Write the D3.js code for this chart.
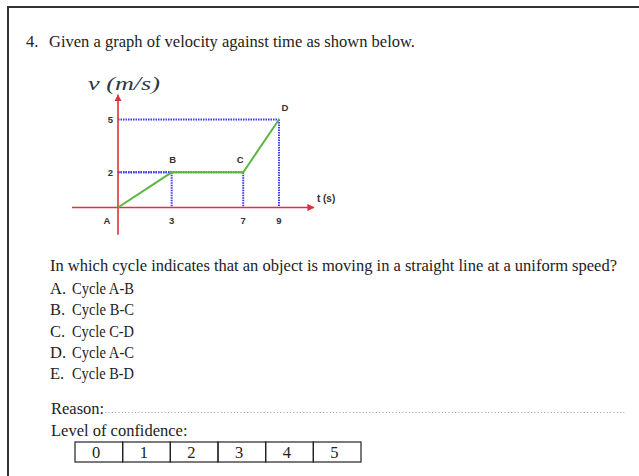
<!DOCTYPE html>
<html>
<head>
<meta charset="utf-8">
<script src="https://cdn.jsdelivr.net/npm/d3@7"></script>
<style>
  body { margin: 0; background: #fff; }
  text { font-family: "Liberation Serif", "Times New Roman", serif; fill: #222; }
  .g text { font-family: "Liberation Sans", Arial, sans-serif; font-weight: bold; fill: #333; }
</style>
</head>
<body>
<div id="chart"></div>
<script>
// data
var points = [
  {label: "A", t: 0, v: 0},
  {label: "B", t: 3, v: 2},
  {label: "C", t: 7, v: 2},
  {label: "D", t: 9, v: 5}
];
var tTicks = [3, 7, 9];
var vTicks = [2, 5];
var question = "In which cycle indicates that an object is moving in a straight line at a uniform speed?";
var optionLetters = ["A.", "B.", "C.", "D.", "E."];
var optionTexts = ["Cycle A-B", "Cycle B-C", "Cycle C-D", "Cycle A-C", "Cycle B-D"];
var confidence = [0, 1, 2, 3, 4, 5];

var width = 639, height = 476;
var fs = "16.5px";

var svg = d3.select("#chart")
  .append("svg")
    .attr("width", width)
    .attr("height", height);

// page frame
svg.append("path")
  .attr("d", "M8," + height + " V7 H" + width)
  .attr("fill", "none")
  .attr("stroke", "#333")
  .attr("stroke-width", 2);

svg.append("text")
  .attr("x", 26).attr("y", 47)
  .attr("font-size", fs)
  .text("4.");
svg.append("text")
  .attr("x", 49).attr("y", 47)
  .attr("font-size", fs)
  .attr("textLength", 366)
  .attr("lengthAdjust", "spacingAndGlyphs")
  .text("Given a graph of velocity against time as shown below.");

// graph scales
var x = d3.scaleLinear().domain([0, 9]).range([118, 279]);
var y = d3.scaleLinear().domain([0, 5]).range([207.5, 119.5]);

var g = svg.append("g").attr("class", "g");

var defs = svg.append("defs");
defs.append("marker")
  .attr("id", "arrow")
  .attr("viewBox", "0 0 10 10")
  .attr("refX", 9).attr("refY", 5)
  .attr("markerWidth", 4.5).attr("markerHeight", 4.5)
  .attr("orient", "auto")
  .append("path")
  .attr("d", "M0,0 L10,5 L0,10 z")
  .attr("fill", "#e0303a");

// dotted guides
var guide = "#3b3bf5";
points.slice(1).forEach(function(d) {
  g.append("line")
    .attr("x1", x(0)).attr("x2", x(d.t))
    .attr("y1", y(d.v)).attr("y2", y(d.v))
    .attr("stroke", guide).attr("stroke-width", 2)
    .attr("stroke-dasharray", "1.5,1");
  g.append("line")
    .attr("x1", x(d.t)).attr("x2", x(d.t))
    .attr("y1", y(d.v)).attr("y2", y(0))
    .attr("stroke", guide).attr("stroke-width", 2)
    .attr("stroke-dasharray", "1.5,1");
});

// axes
g.append("line")
  .attr("x1", x(-2.57)).attr("x2", x(10.95))
  .attr("y1", y(0)).attr("y2", y(0))
  .attr("stroke", "#e0303a").attr("stroke-width", 1.6)
  .attr("marker-end", "url(#arrow)");
g.append("line")
  .attr("x1", x(0)).attr("x2", x(0))
  .attr("y1", y(-1.55)).attr("y2", y(6.4))
  .attr("stroke", "#e0303a").attr("stroke-width", 1.6)
  .attr("marker-end", "url(#arrow)");

// velocity line
g.append("path")
  .datum(points)
  .attr("fill", "none")
  .attr("stroke", "#5cb545")
  .attr("stroke-width", 2)
  .attr("d", d3.line()
    .x(function(d) { return x(d.t); })
    .y(function(d) { return y(d.v); }));

// tick labels
g.selectAll(".tt")
  .data(tTicks)
  .enter().append("text")
    .attr("x", function(d) { return x(d); })
    .attr("y", y(0) + 16)
    .attr("text-anchor", "middle")
    .attr("font-size", "9.5px")
    .text(function(d) { return d; });
g.selectAll(".vt")
  .data(vTicks)
  .enter().append("text")
    .attr("x", x(0) - 5)
    .attr("y", function(d) { return y(d) + 3.5; })
    .attr("text-anchor", "end")
    .attr("font-size", "9.5px")
    .text(function(d) { return d; });

// point labels
g.selectAll(".pl")
  .data(points)
  .enter().append("text")
    .attr("x", function(d) { return d.label === "A" ? x(d.t) - 11 : (d.label === "C" ? x(d.t) - 3 : (d.label === "D" ? x(d.t) + 6 : x(d.t) + 1)); })
    .attr("y", function(d) { return d.label === "A" ? y(d.v) + 16 : y(d.v) - 9; })
    .attr("text-anchor", "middle")
    .attr("font-size", "9.5px")
    .text(function(d) { return d.label; });

g.append("text")
  .attr("x", x(10.95) + 3).attr("y", y(0) - 6)
  .attr("font-size", "10px")
  .text("t (s)");

svg.append("text")
  .attr("x", 88).attr("y", 90)
  .attr("font-size", "19px")
  .attr("font-style", "italic")
  .attr("font-family", "'DejaVu Serif', serif")
  .attr("textLength", 72)
  .attr("lengthAdjust", "spacingAndGlyphs")
  .style("fill", "#2e3a48")
  .text("v (m/s)");

// question and options
svg.append("text")
  .attr("x", 50).attr("y", 271)
  .attr("font-size", fs)
  .attr("textLength", 567)
  .attr("lengthAdjust", "spacingAndGlyphs")
  .text(question);

var opts = svg.append("g");
optionTexts.forEach(function(t, i) {
  opts.append("text")
    .attr("x", 50).attr("y", 294 + i * 21.3)
    .attr("font-size", fs)
    .text(optionLetters[i]);
  opts.append("text")
    .attr("x", 72).attr("y", 294 + i * 21.3)
    .attr("font-size", fs)
    .attr("textLength", 62)
    .attr("lengthAdjust", "spacingAndGlyphs")
    .text(t);
});

// reason
svg.append("text")
  .attr("x", 51).attr("y", 414)
  .attr("font-size", fs)
  .text("Reason:");
svg.append("line")
  .attr("x1", 102).attr("x2", 625)
  .attr("y1", 412.5).attr("y2", 412.5)
  .attr("stroke", "#9a9a9a").attr("stroke-width", 1)
  .attr("stroke-dasharray", "1,2.3");

svg.append("text")
  .attr("x", 51).attr("y", 436)
  .attr("font-size", fs)
  .text("Level of confidence:");

// confidence table
var cx = d3.scaleBand().domain(confidence).range([75, 361]);
var cells = svg.append("g");
cells.selectAll("rect")
  .data(confidence)
  .enter().append("rect")
    .attr("x", function(d) { return cx(d); })
    .attr("y", 442)
    .attr("width", cx.bandwidth())
    .attr("height", 20)
    .attr("fill", "none")
    .attr("stroke", "#222")
    .attr("stroke-width", 1.2);
cells.selectAll("text")
  .data(confidence)
  .enter().append("text")
    .attr("x", function(d) { return cx(d) + 17; })
    .attr("y", 458)
    .attr("font-size", fs)
    .text(function(d) { return d; });
</script>
</body>
</html>
